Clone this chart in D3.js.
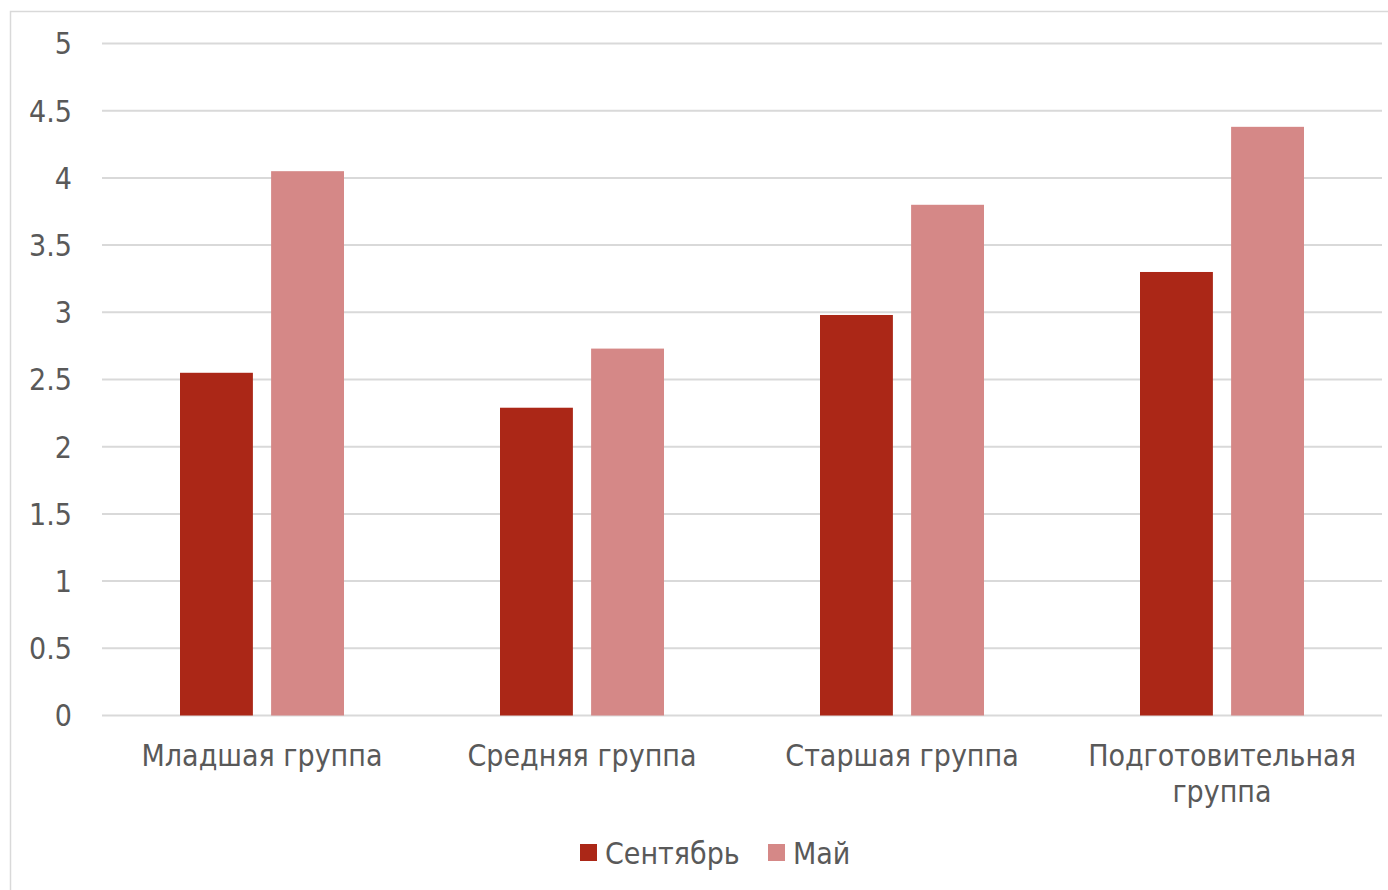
<!DOCTYPE html>
<html>
<head>
<meta charset="utf-8">
<script src="https://cdn.jsdelivr.net/npm/d3@7"></script>
<style>
  body { margin: 0; background: #fff; }
  text { font-family: "DejaVu Sans Condensed", "DejaVu Sans", sans-serif; fill: #595959; }
</style>
</head>
<body>
<div id="chart"></div>
<script>
const categories = ["Младшая группа", "Средняя группа", "Старшая группа", "Подготовительная группа"];
const septValues = [2.55, 2.29, 2.98, 3.30];
const mayValues = [4.05, 2.73, 3.80, 4.38];
const seriesNames = ["Сентябрь", "Май"];
const seriesColors = ["#AB2717", "#D58887"];
const yTicks = [0, 0.5, 1, 1.5, 2, 2.5, 3, 3.5, 4, 4.5, 5];

const width = 1388, height = 890;
const margin = {top: 43.5, right: 6, bottom: 174.5, left: 102};

const svg = d3.select("#chart").append("svg")
    .attr("width", width)
    .attr("height", height);

// outer frame of the chart
svg.append("rect")
    .attr("x", 10.5)
    .attr("y", 11.5)
    .attr("width", width)
    .attr("height", height)
    .attr("fill", "none")
    .attr("stroke", "#d9d9d9")
    .attr("stroke-width", 1.5);

const g = svg.append("g")
    .attr("transform", "translate(" + margin.left + "," + margin.top + ")");

const innerW = width - margin.left - margin.right;
const innerH = height - margin.top - margin.bottom;

const x = d3.scaleBand().domain(categories).range([0, innerW]);
const y = d3.scaleLinear().domain([0, 5]).range([innerH, 0]);

// gridlines
g.append("g")
    .selectAll("line")
    .data(yTicks)
    .join("line")
    .attr("x1", 0)
    .attr("x2", innerW)
    .attr("y1", d => y(d))
    .attr("y2", d => y(d))
    .attr("stroke", "#d9d9d9")
    .attr("stroke-width", 2);

// y labels
g.append("g")
    .selectAll("text")
    .data(yTicks)
    .join("text")
    .attr("x", -30)
    .attr("y", d => y(d))
    .attr("dy", "0.36em")
    .attr("text-anchor", "end")
    .style("font-size", "30px")
    .text(d => d);

// bars, two per group
const sub = d3.scaleBand().domain([0, 1]).range([-82, 82]).paddingInner(0.2);

const groups = g.selectAll(".grp")
    .data(categories)
    .join("g")
    .attr("class", "grp")
    .attr("transform", d => "translate(" + (x(d) + x.bandwidth() / 2) + ",0)");

groups.selectAll("rect")
    .data((d, i) => [septValues[i], mayValues[i]])
    .join("rect")
    .attr("x", (d, i) => sub(i))
    .attr("width", sub.bandwidth())
    .attr("y", d => y(d))
    .attr("height", d => innerH - y(d))
    .attr("fill", (d, i) => seriesColors[i]);

// category labels (wrap long one)
groups.append("text")
    .attr("text-anchor", "middle")
    .style("font-size", "30px")
    .each(function(d) {
        const t = d3.select(this);
        const lines = d.length > 16 ? d.split(" ") : [d];
        lines.forEach((ln, k) => {
            t.append("tspan")
                .attr("x", 0)
                .attr("y", innerH + 50 + k * 36)
                .text(ln);
        });
    });

// legend
const legend = svg.append("g").attr("transform", "translate(580,853)");
const legX = [0, 188];
seriesNames.forEach((name, i) => {
    legend.append("rect")
        .attr("x", legX[i])
        .attr("y", -9)
        .attr("width", 17)
        .attr("height", 17)
        .attr("fill", seriesColors[i]);
    legend.append("text")
        .attr("x", legX[i] + 25)
        .attr("y", 0)
        .attr("dy", "0.36em")
        .style("font-size", "30px")
        .text(name);
});
</script>
</body>
</html>
